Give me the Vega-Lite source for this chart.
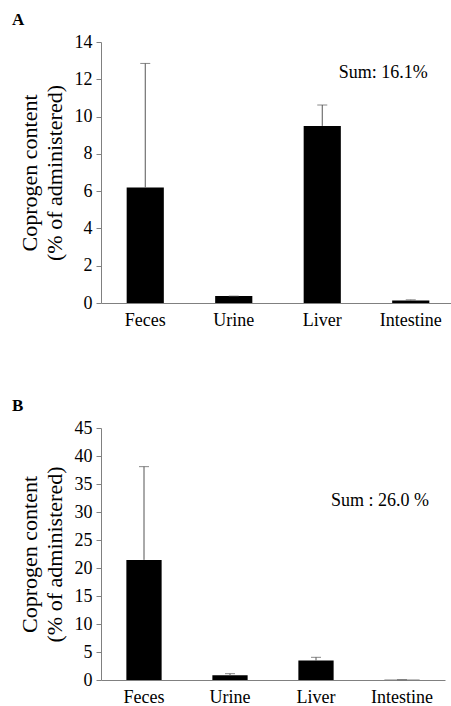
{
  "$schema": "https://vega.github.io/schema/vega-lite/v6.json",
  "padding": {"left": 12, "top": 11, "right": 0, "bottom": 0},
  "spacing": 68,
  "background": "white",
  "config": {
    "font": "Liberation Serif",
    "view": {"stroke": null},
    "axis": {
      "labelFont": "Liberation Serif", "titleFont": "Liberation Serif",
      "labelColor": "black", "titleColor": "black",
      "domainColor": "#808080", "tickColor": "#808080",
      "grid": false, "labelFontSize": 18, "titleFontSize": 22, "titleFontWeight": "normal"
    },
    "axisY": {"titleLineHeight": 25, "titlePadding": 8, "tickSize": 5, "labelPadding": 4, "labelOverlap": false},
    "title": {"font": "Liberation Serif", "fontSize": 17, "fontWeight": "bold", "anchor": "start", "frame": "bounds", "color": "black"}
  },
  "datasets": {
    "a": [
      {"organ": "Feces", "value": 6.2, "upper": 12.85},
      {"organ": "Urine", "value": 0.37, "upper": 0.37},
      {"organ": "Liver", "value": 9.5, "upper": 10.62},
      {"organ": "Intestine", "value": 0.14, "upper": 0.17}
    ],
    "b": [
      {"organ": "Feces", "value": 21.45, "upper": 38.1},
      {"organ": "Urine", "value": 0.84, "upper": 1.13},
      {"organ": "Liver", "value": 3.46, "upper": 4.05},
      {"organ": "Intestine", "value": 0.05, "upper": 0.06}
    ],
    "suma": [{"organ": "Intestine", "y": 12.35, "label": "Sum: 16.1%"}],
    "sumb": [{"organ": "Intestine", "y": 32.0, "label": "Sum : 26.0 %"}]
  },
  "vconcat": [
    {
      "title": {"text": "A", "offset": 4, "dx": -6},
      "width": 354, "height": 261,
      "encoding": {
        "x": {"field": "organ", "type": "nominal",
          "scale": {"domain": ["Feces", "Urine", "Liver", "Intestine"], "paddingInner": 0.58, "paddingOuter": 0.29},
          "axis": {"title": null, "labelAngle": 0, "ticks": false, "labelPadding": 8}}
      },
      "layer": [
        {
          "data": {"name": "a"},
          "mark": {"type": "bar", "color": "black"},
          "encoding": {
            "y": {"field": "value", "type": "quantitative", "scale": {"domain": [0, 14]}, "title": ["Coprogen content", "(% of administered)"],
              "axis": {"values": [0, 2, 4, 6, 8, 10, 12, 14]}}
          }
        },
        {
          "data": {"name": "a"},
          "mark": {"type": "rule", "color": "#555555"},
          "encoding": {
            "y": {"field": "value", "type": "quantitative", "title": ["Coprogen content", "(% of administered)"], "axis": {"values": [0, 2, 4, 6, 8, 10, 12, 14]}},
            "y2": {"field": "upper"}
          }
        },
        {
          "data": {"name": "a"},
          "mark": {"type": "tick", "color": "#555555", "size": 10, "thickness": 1},
          "encoding": {"y": {"field": "upper", "type": "quantitative", "title": ["Coprogen content", "(% of administered)"], "axis": {"values": [0, 2, 4, 6, 8, 10, 12, 14]}}}
        },
        {
          "data": {"name": "suma"},
          "mark": {"type": "text", "fontSize": 18, "align": "right", "baseline": "middle", "dx": 17, "color": "black"},
          "encoding": {
            "y": {"field": "y", "type": "quantitative", "title": ["Coprogen content", "(% of administered)"], "axis": {"values": [0, 2, 4, 6, 8, 10, 12, 14]}},
            "text": {"field": "label"}
          }
        }
      ]
    },
    {
      "title": {"text": "B", "offset": 4, "dx": -6},
      "width": 344, "height": 252,
      "encoding": {
        "x": {"field": "organ", "type": "nominal",
          "scale": {"domain": ["Feces", "Urine", "Liver", "Intestine"], "paddingInner": 0.59, "paddingOuter": 0.295},
          "axis": {"title": null, "labelAngle": 0, "ticks": false, "labelPadding": 8}}
      },
      "layer": [
        {
          "data": {"name": "b"},
          "mark": {"type": "bar", "color": "black"},
          "encoding": {
            "y": {"field": "value", "type": "quantitative", "scale": {"domain": [0, 45]}, "title": ["Coprogen content", "(% of administered)"],
              "axis": {"values": [0, 5, 10, 15, 20, 25, 30, 35, 40, 45]}}
          }
        },
        {
          "data": {"name": "b"},
          "mark": {"type": "rule", "color": "#555555"},
          "encoding": {
            "y": {"field": "value", "type": "quantitative", "title": ["Coprogen content", "(% of administered)"], "axis": {"values": [0, 5, 10, 15, 20, 25, 30, 35, 40, 45]}},
            "y2": {"field": "upper"}
          }
        },
        {
          "data": {"name": "b"},
          "mark": {"type": "tick", "color": "#555555", "size": 10, "thickness": 1},
          "encoding": {"y": {"field": "upper", "type": "quantitative", "title": ["Coprogen content", "(% of administered)"], "axis": {"values": [0, 5, 10, 15, 20, 25, 30, 35, 40, 45]}}}
        },
        {
          "data": {"name": "sumb"},
          "mark": {"type": "text", "fontSize": 18, "align": "right", "baseline": "middle", "dx": 27, "color": "black"},
          "encoding": {
            "y": {"field": "y", "type": "quantitative", "title": ["Coprogen content", "(% of administered)"], "axis": {"values": [0, 5, 10, 15, 20, 25, 30, 35, 40, 45]}},
            "text": {"field": "label"}
          }
        }
      ]
    }
  ]
}
